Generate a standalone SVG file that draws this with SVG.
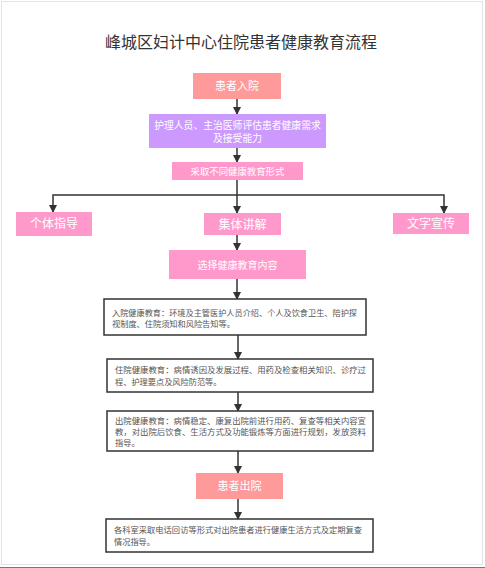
<svg xmlns="http://www.w3.org/2000/svg" width="485" height="568" viewBox="0 0 485 568">
<defs>
<marker id="ah" markerWidth="8" markerHeight="8" refX="7" refY="4" orient="auto" markerUnits="userSpaceOnUse">
<path d="M0,0 L8,4 L0,8 Z" fill="#333"/>
</marker>
<style>
.t{font-family:"Noto Sans CJK SC","Liberation Sans",sans-serif;}
.title{font-size:16px;fill:#333;text-anchor:middle;}
.w{fill:#fff;text-anchor:middle;}
.b{fill:#fff;stroke:#333;stroke-width:1.5;}
.bt{font-size:8.2px;fill:#555;}
.c{fill:none;stroke:#333;stroke-width:1.5;}
.ca{fill:none;stroke:#333;stroke-width:1.5;marker-end:url(#ah);}
</style>
</defs>
<rect x="0" y="0" width="485" height="568" fill="#fff"/>
<rect x="1.5" y="1.5" width="481" height="563" fill="none" stroke="#e3e3e3" stroke-width="1"/>
<line x1="0" y1="567.5" x2="485" y2="567.5" stroke="#777" stroke-width="1"/>
<text class="t title" x="241" y="48">峰城区妇计中心住院患者健康教育流程</text>

<g id="connectors">
<line class="ca" x1="237" y1="99" x2="237" y2="114"/>
<line class="ca" x1="237" y1="148" x2="237" y2="162"/>
<line class="ca" x1="237" y1="180" x2="237" y2="213"/>
<polyline class="ca" points="237,195 53,195 53,212"/>
<polyline class="ca" points="237,195 444,195 444,213"/>
<line class="ca" x1="237" y1="235" x2="237" y2="250"/>
<line class="ca" x1="237" y1="279" x2="237" y2="299"/>
<line class="ca" x1="238" y1="335" x2="238" y2="359"/>
<line class="ca" x1="238" y1="392" x2="238" y2="411"/>
<line class="ca" x1="238" y1="451" x2="238" y2="473"/>
<line class="ca" x1="238" y1="499" x2="238" y2="519"/>
</g>

<g id="n-admit">
<rect x="193" y="73" width="88" height="26" fill="#ff9a9a"/>
<text class="t w" x="237" y="90" font-size="11">患者入院</text>
</g>
<g id="n-assess">
<rect x="149" y="114" width="177" height="34" fill="#cc99ff"/>
<text class="t w" x="237.5" y="129" font-size="9.8">护理人员、主治医师评估患者健康需求</text>
<text class="t w" x="237.5" y="142" font-size="9.8">及接受能力</text>
</g>
<g id="n-forms">
<rect x="172" y="162" width="131" height="18" fill="#ff99cc"/>
<text class="t w" x="237.5" y="174.5" font-size="9.4">采取不同健康教育形式</text>
</g>
<g id="n-individual">
<rect x="16" y="212" width="76" height="24" fill="#ff99cc"/>
<text class="t w" x="54" y="228" font-size="12">个体指导</text>
</g>
<g id="n-group">
<rect x="204" y="213" width="77" height="22" fill="#ff99cc"/>
<text class="t w" x="242.5" y="228.5" font-size="12">集体讲解</text>
</g>
<g id="n-text">
<rect x="393" y="213" width="76" height="21" fill="#ff99cc"/>
<text class="t w" x="431" y="228" font-size="12">文字宣传</text>
</g>
<g id="n-select">
<rect x="169" y="250" width="137" height="29" fill="#ff99cc"/>
<text class="t w" x="237.5" y="268.5" font-size="10">选择健康教育内容</text>
</g>
<g id="n-edu-admit">
<rect class="b" x="104" y="299" width="262" height="36"/>
<text class="t bt" x="112" y="316" textLength="245" lengthAdjust="spacingAndGlyphs">入院健康教育：环境及主管医护人员介绍、个人及饮食卫生、陪护探</text>
<text class="t bt" x="112" y="327">视制度、住院须知和风险告知等。</text>
</g>
<g id="n-edu-stay">
<rect class="b" x="107" y="359" width="266" height="33"/>
<text class="t bt" x="115" y="373" textLength="251" lengthAdjust="spacingAndGlyphs">住院健康教育：病情诱因及发展过程、用药及检查相关知识、诊疗过</text>
<text class="t bt" x="115" y="385">程、护理要点及风险防范等。</text>
</g>
<g id="n-edu-discharge">
<rect class="b" x="107" y="411" width="266" height="40"/>
<text class="t bt" x="115" y="424" textLength="251" lengthAdjust="spacingAndGlyphs">出院健康教育：病情稳定、康复出院前进行用药、复查等相关内容宣</text>
<text class="t bt" x="115" y="435" textLength="251" lengthAdjust="spacingAndGlyphs">教，对出院后饮食、生活方式及功能锻炼等方面进行规划，发放资料</text>
<text class="t bt" x="115" y="446">指导。</text>
</g>
<g id="n-discharge">
<rect x="196" y="473" width="87" height="26" fill="#ff9a9a"/>
<text class="t w" x="239.5" y="490" font-size="11">患者出院</text>
</g>
<g id="n-followup">
<rect class="b" x="106" y="519" width="267" height="33"/>
<text class="t bt" x="114" y="533" textLength="248" lengthAdjust="spacingAndGlyphs">各科室采取电话回访等形式对出院患者进行健康生活方式及定期复查</text>
<text class="t bt" x="114" y="545">情况指导。</text>
</g>
</svg>
